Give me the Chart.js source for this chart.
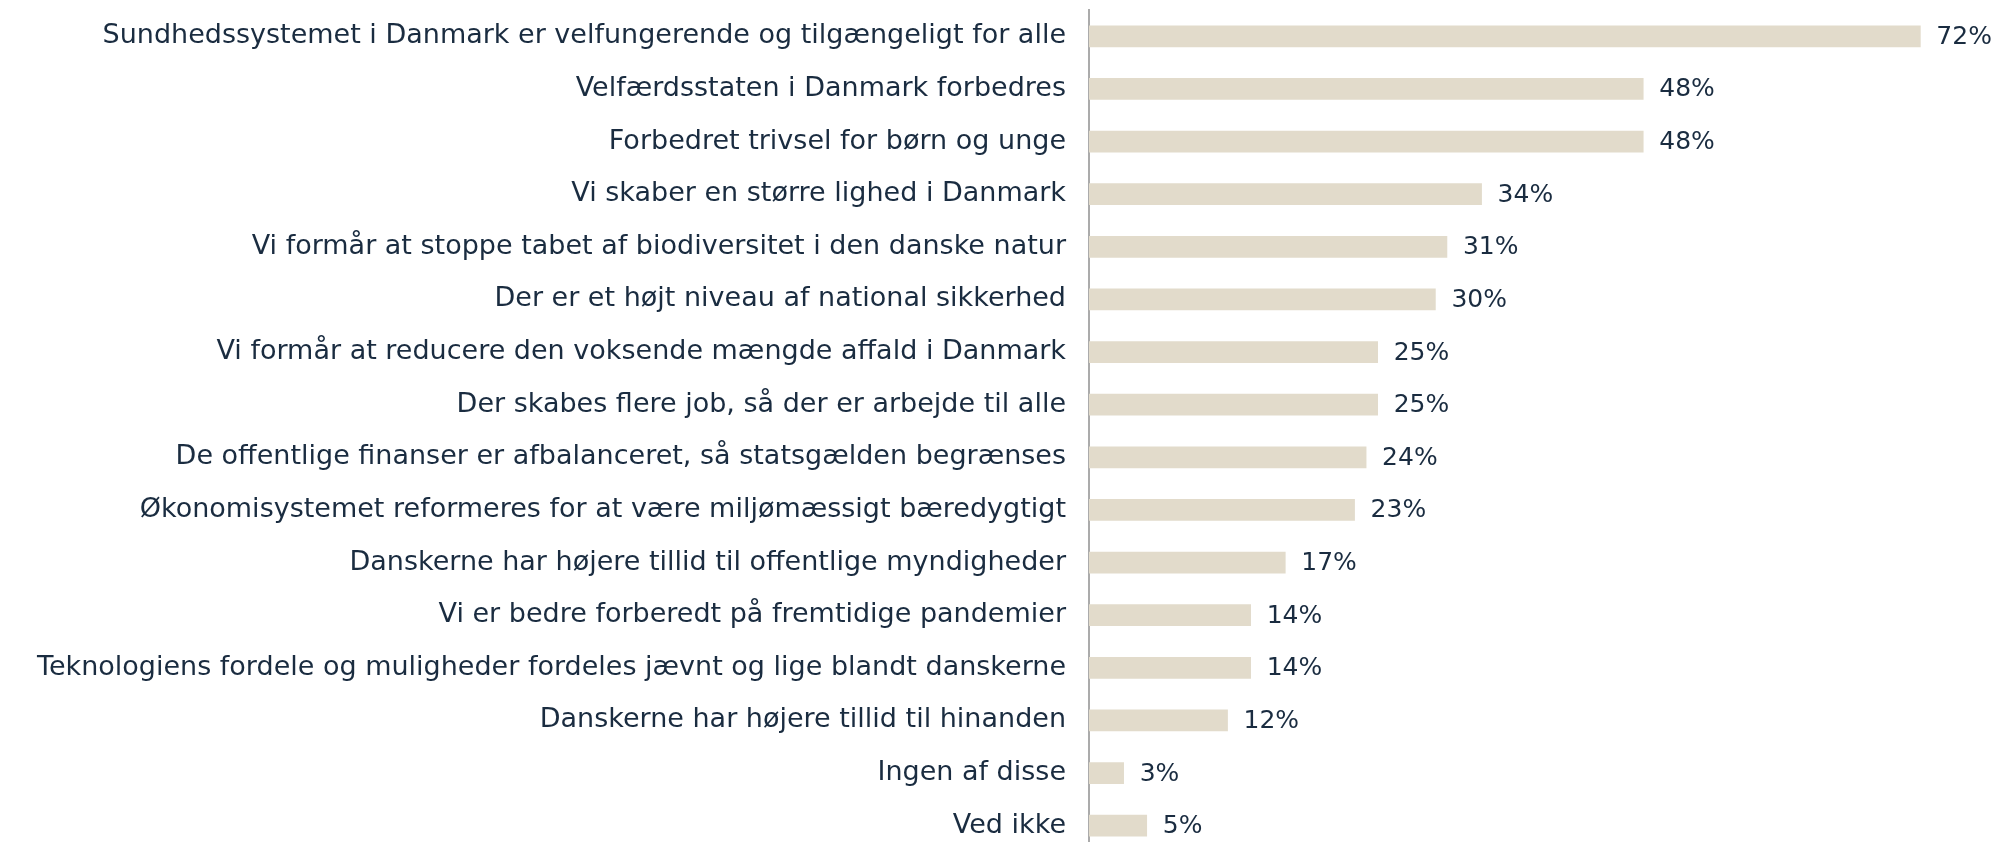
<!DOCTYPE html>
<html>
<head>
<meta charset="utf-8">
<script src="https://cdn.jsdelivr.net/npm/chart.js@4"></script>
<style>
    html, body { margin: 0; padding: 0; background: #fff; overflow: hidden; }
    #wrap { width: 1995px; height: 852px; position: relative; }
</style>
</head>
<body>
<div id="wrap"><canvas id="chart"></canvas></div>
<script>
const categories = [
    'Sundhedssystemet i Danmark er velfungerende og tilgængeligt for alle',
    'Velfærdsstaten i Danmark forbedres',
    'Forbedret trivsel for børn og unge',
    'Vi skaber en større lighed i Danmark',
    'Vi formår at stoppe tabet af biodiversitet i den danske natur',
    'Der er et højt niveau af national sikkerhed',
    'Vi formår at reducere den voksende mængde affald i Danmark',
    'Der skabes flere job, så der er arbejde til alle',
    'De offentlige finanser er afbalanceret, så statsgælden begrænses',
    'Økonomisystemet reformeres for at være miljømæssigt bæredygtigt',
    'Danskerne har højere tillid til offentlige myndigheder',
    'Vi er bedre forberedt på fremtidige pandemier',
    'Teknologiens fordele og muligheder fordeles jævnt og lige blandt danskerne',
    'Danskerne har højere tillid til hinanden',
    'Ingen af disse',
    'Ved ikke'
];
const values = [72, 48, 48, 34, 31, 30, 25, 25, 24, 23, 17, 14, 14, 12, 3, 5];

const textColor = '#1a2c40';
const barColor = '#e2dbcb';
const fontFamily = '"DejaVu Sans", sans-serif';

// writes "NN%" just right of each bar
const valueLabels = {
    id: 'valueLabels',
    afterDatasetsDraw(chart) {
        const ctx = chart.ctx;
        const meta = chart.getDatasetMeta(0);
        ctx.save();
        ctx.font = '25px ' + fontFamily;
        ctx.fillStyle = textColor;
        ctx.textAlign = 'left';
        ctx.textBaseline = 'middle';
        meta.data.forEach((bar, i) => {
            ctx.fillText(values[i] + '%', bar.x + 16, bar.y + 1);
        });
        ctx.restore();
    }
};

new Chart(document.getElementById('chart'), {
    type: 'bar',
    data: {
        labels: categories,
        datasets: [{
            data: values,
            backgroundColor: barColor,
            borderWidth: 0,
            barThickness: 21
        }]
    },
    options: {
        indexAxis: 'y',
        responsive: true,
        maintainAspectRatio: false,
        animation: false,
        layout: { padding: { top: 10, right: 40, left: 0, bottom: 0 } },
        plugins: {
            legend: { display: false },
            tooltip: { enabled: false }
        },
        scales: {
            x: {
                display: false,
                min: 0,
                max: 75
            },
            y: {
                afterFit(scale) {
                    scale.width = 1089;
                    scale.paddingTop = 0;
                    scale.paddingBottom = 0;
                },
                grid: { display: false, drawTicks: false },
                border: { display: true, color: '#ababab', width: 2 },
                ticks: {
                    color: textColor,
                    padding: 23,
                    autoSkip: false,
                    font: { family: fontFamily, size: 27 }
                }
            }
        }
    },
    plugins: [valueLabels]
});
</script>
</body>
</html>
